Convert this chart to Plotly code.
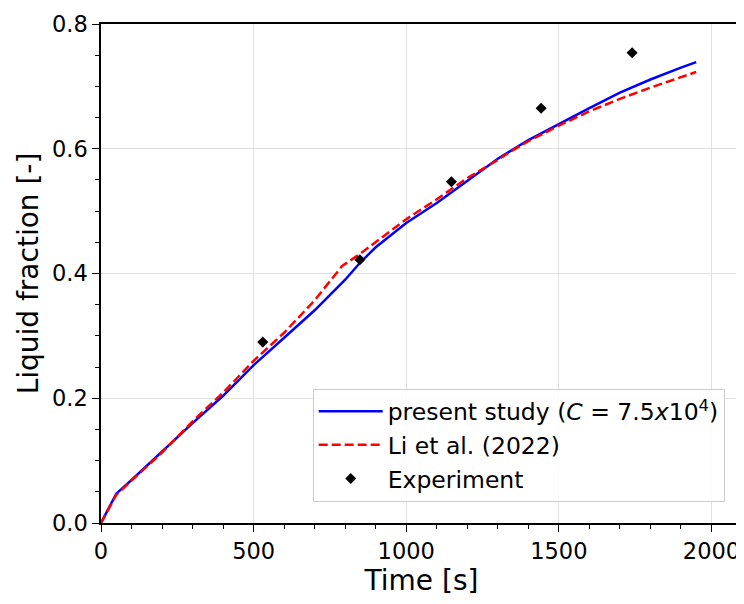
import plotly.graph_objects as go

# Present study (C = 7.5x10^4)
time_present = [0, 50, 100, 200, 300, 400, 500, 600, 700, 800, 850, 900, 1000, 1100, 1200, 1300, 1400, 1500, 1600, 1700, 1800, 1900, 1950]
lf_present = [0.0, 0.047, 0.069, 0.115, 0.160, 0.204, 0.253, 0.297, 0.341, 0.390, 0.418, 0.442, 0.481, 0.513, 0.548, 0.584, 0.614, 0.640, 0.665, 0.690, 0.711, 0.730, 0.739]

# Li et al. (2022)
time_li = [0, 50, 100, 200, 300, 400, 500, 600, 700, 790, 850, 900, 1000, 1100, 1200, 1300, 1340, 1400, 1500, 1600, 1700, 1800, 1900, 1950]
lf_li = [0.0, 0.045, 0.068, 0.113, 0.163, 0.209, 0.260, 0.305, 0.357, 0.412, 0.432, 0.450, 0.487, 0.519, 0.553, 0.582, 0.595, 0.612, 0.637, 0.660, 0.680, 0.698, 0.714, 0.723]

# Experiment
time_exp = [530, 848, 1148, 1442, 1740]
lf_exp = [0.290, 0.422, 0.547, 0.665, 0.754]

font_family = "DejaVu Sans"

fig = go.Figure()
fig.add_trace(go.Scatter(
    x=time_present, y=lf_present, mode="lines",
    line=dict(color="#0000ff", width=2.5),
    name="present study (<i>C</i> = 7.5<i>x</i>10<sup>4</sup>)",
    legendgroup="a",
))
fig.add_trace(go.Scatter(
    x=time_li, y=lf_li, mode="lines",
    line=dict(color="#ff0000", width=2.5, dash="9px,4px"),
    name="Li et al. (2022)",
    legendgroup="b",
))
fig.add_trace(go.Scatter(
    x=time_exp, y=lf_exp, mode="markers",
    marker=dict(symbol="diamond", color="black", size=8.5),
    name="Experiment",
    legendgroup="c",
))

axis_common = dict(
    showline=True, linecolor="black", linewidth=1.5, mirror=True,
    ticks="outside", ticklen=7, tickwidth=1.3, tickcolor="black",
    showgrid=True, gridcolor="#e0e0e0", gridwidth=1,
    zeroline=False, automargin=False,
    tickfont=dict(family=font_family, size=22.5, color="black"),
)

fig.update_xaxes(
    range=[0, 2100], tickvals=[0, 500, 1000, 1500, 2000],
    minor=dict(dtick=100, tick0=0, ticks="outside", ticklen=4, tickwidth=1, tickcolor="black", showgrid=False),
    title=dict(text="Time [s]", font=dict(family=font_family, size=28, color="black"), standoff=4),
    **axis_common,
)
fig.update_yaxes(
    range=[0, 0.8], tickvals=[0, 0.2, 0.4, 0.6, 0.8], tickformat=".1f",
    minor=dict(dtick=0.05, tick0=0, ticks="outside", ticklen=4, tickwidth=1, tickcolor="black", showgrid=False),
    title=dict(text="Liquid fraction [-]", font=dict(family=font_family, size=28, color="black"), standoff=5),
    **axis_common,
)

# page body has an 8px margin; size the figure so the plot area lands where the reference has it
fig.update_layout(
    width=736, height=596,
    margin=dict(l=93, r=2, t=16, b=81),
    plot_bgcolor="white", paper_bgcolor="white",
    font=dict(family=font_family, color="black"),
    legend=dict(
        x=0.973, y=0.043, xanchor="right", yanchor="bottom",
        bgcolor="rgba(255,255,255,0.85)", bordercolor="#cccccc", borderwidth=1,
        font=dict(family=font_family, size=23.5, color="black"),
        itemwidth=64, tracegroupgap=4, traceorder="normal",
    ),
)

fig.write_html("out.html")
